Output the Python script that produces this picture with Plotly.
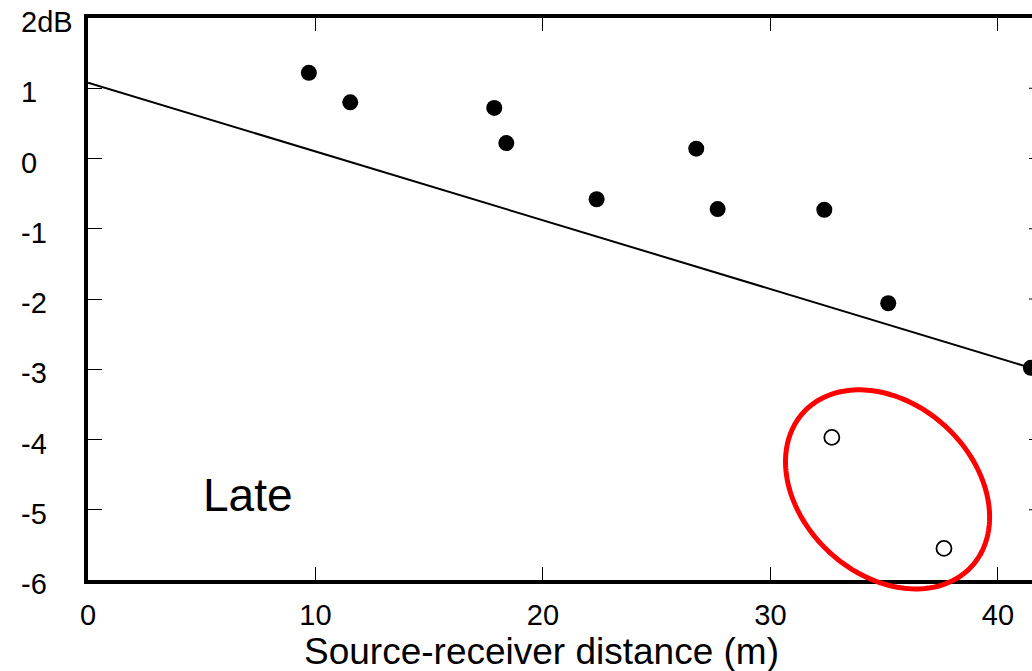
import numpy as np
import plotly.graph_objects as go

# Filled points (measured data)
dist_filled = [9.71, 11.53, 17.86, 18.39, 22.36, 26.74, 27.68, 32.37, 35.18, 41.45]
db_filled = [1.22, 0.80, 0.72, 0.22, -0.58, 0.14, -0.72, -0.73, -2.06, -2.98]

# Open points (outliers)
dist_open = [32.70, 37.63]
db_open = [-3.97, -5.55]

# Regression line end points
line_x = [0.0, 41.45]
line_y = [1.08, -2.98]

# Axis ticks
x_ticks = [0, 10, 20, 30, 40]
y_ticks = [2, 1, 0, -1, -2, -3, -4, -5, -6]
y_tick_labels = ["2dB", "1", "0", "-1", "-2", "-3", "-4", "-5", "-6"]

X_RANGE = [0, 41.5]
Y_RANGE = [-6, 2]

W, H = 1032, 671
ML, MR, MT, MB = 88, 0, 18, 91
PW = W - ML - MR
PH = H - MT - MB

FONT = "Liberation Sans, Arial, sans-serif"

fig = go.Figure()

fig.add_trace(go.Scatter(x=line_x, y=line_y, mode="lines",
                         line=dict(color="black", width=2),
                         hoverinfo="skip", showlegend=False))

fig.add_trace(go.Scatter(x=dist_filled, y=db_filled, mode="markers",
                         marker=dict(symbol="circle", size=16, color="black",
                                     line=dict(width=0)),
                         showlegend=False, cliponaxis=False))

fig.add_trace(go.Scatter(x=dist_open, y=db_open, mode="markers",
                         marker=dict(symbol="circle-open", size=15, color="black",
                                     line=dict(width=1.8, color="black")),
                         showlegend=False, cliponaxis=False))

# Red ellipse highlighting the outliers (paper coordinates, not clipped)
ell_cx, ell_cy = 35.15, -4.71          # centre in data units
ell_a, ell_b, ell_theta = 114.0, 85.6, np.deg2rad(42.45)  # screen px, angle
sx = PW / (X_RANGE[1] - X_RANGE[0])
sy = PH / (Y_RANGE[1] - Y_RANGE[0])
t = np.linspace(0, 2 * np.pi, 181)
dx_px = ell_a * np.cos(t) * np.cos(ell_theta) - ell_b * np.sin(t) * np.sin(ell_theta)
dy_px = ell_a * np.cos(t) * np.sin(ell_theta) + ell_b * np.sin(t) * np.cos(ell_theta)
px = (ell_cx - X_RANGE[0]) * sx + dx_px
py = (ell_cy - Y_RANGE[0]) * sy - dy_px
path = "M " + " L ".join(f"{x / PW:.5f},{y / PH:.5f}" for x, y in zip(px, py)) + " Z"
fig.add_shape(type="path", path=path, xref="paper", yref="paper",
              line=dict(color="#ff0000", width=5), layer="above")

# Stubs of the (off-page) right-hand axis ticks
for v in y_ticks[1:-1]:
    fig.add_shape(type="line", xref="paper", yref="y",
                  x0=(1029 - ML) / PW, x1=1.0, y0=v, y1=v,
                  line=dict(color="black", width=1))

# Y tick labels as left-aligned text
for v, lab in zip(y_ticks, y_tick_labels):
    fig.add_annotation(x=(19 - ML) / PW, xref="paper", y=v, yref="y",
                       text=lab, showarrow=False, xanchor="left", yanchor="middle",
                       yshift=-4, font=dict(family=FONT, size=29, color="black"))

fig.add_annotation(x=4.95, y=-4.79, xref="x", yref="y", text="Late",
                   showarrow=False, xanchor="left", yanchor="middle",
                   font=dict(family=FONT, size=46, color="black"))

# X axis title
fig.add_annotation(x=(541.5 - ML) / PW, xref="paper", y=-(651 - MT - PH) / PH,
                   yref="paper", text="Source-receiver distance (m)",
                   showarrow=False, xanchor="center", yanchor="middle",
                   font=dict(family=FONT, size=37, color="black"))

fig.update_xaxes(range=X_RANGE, tickvals=x_ticks, ticks="inside", ticklen=13,
                 tickwidth=1, tickcolor="black", showline=True, linewidth=4,
                 linecolor="black", mirror="ticks", showgrid=False, zeroline=False,
                 ticklabelstandoff=6,
                 tickfont=dict(family=FONT, size=29, color="black"))
fig.update_yaxes(range=Y_RANGE, tickvals=y_ticks, ticks="inside", ticklen=14,
                 tickwidth=1, tickcolor="black", showline=True, linewidth=4,
                 linecolor="black", showgrid=False, zeroline=False,
                 showticklabels=False)

fig.update_layout(width=W, height=H, margin=dict(l=ML, r=MR, t=MT, b=MB),
                  plot_bgcolor="white", paper_bgcolor="white",
                  font=dict(family=FONT, color="black"))

fig.write_html("out.html")
